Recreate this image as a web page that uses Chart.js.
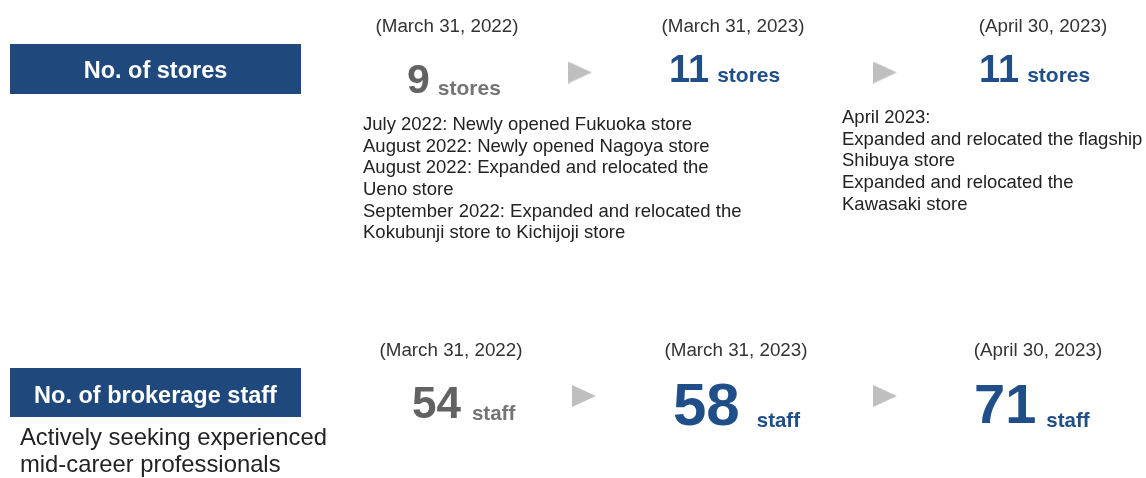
<!DOCTYPE html>
<html>
<head>
<meta charset="utf-8">
<script src="https://cdn.jsdelivr.net/npm/chart.js@4"></script>
<style>
  html, body { margin: 0; padding: 0; background: #ffffff; overflow: hidden; }
  canvas { display: block; }
</style>
</head>
<body>
<canvas id="c" width="1146" height="478"></canvas>
<script>
// ---------------- data ----------------
const periods = ['(March 31, 2022)', '(March 31, 2023)', '(April 30, 2023)'];
const storeCounts = [9, 11, 11];
const staffCounts = [54, 58, 71];
const metricLabels = ['No. of stores', 'No. of brokerage staff'];
const unitLabels = ['stores', 'staff'];
const staffNote = ['Actively seeking experienced', 'mid-career professionals'];
const storeNotesFY2022 = [
  'July 2022: Newly opened Fukuoka store',
  'August 2022: Newly opened Nagoya store',
  'August 2022: Expanded and relocated the',
  'Ueno store',
  'September 2022: Expanded and relocated the',
  'Kokubunji store to Kichijoji store'
];
const storeNotesApr2023 = [
  'April 2023:',
  'Expanded and relocated the flagship',
  'Shibuya store',
  'Expanded and relocated the',
  'Kawasaki store'
];

// ---------------- layout & style ----------------
const FONT = '"Liberation Sans", Arial, Helvetica, sans-serif';
const BLUE_BOX = '#1f497d';
const BLUE_TXT = '#1f4e89';
const GRAY_NUM = '#626262';
const GRAY_UNIT = '#747474';
const ARROW = '#bfbfbf';

const layout = {
  stores: {
    box: { x: 10, y: 44, w: 291, h: 50, base: 78 },
    dateX: [447, 733, 1043], dateBase: 32,
    numX: [407, 669, 979], numBase: [93, 82, 82], numSize: [41, 38, 38],
    unitBase: [95, 82, 82], unitGap: [8, 8, 8], unitSize: 21,
    colors: [GRAY_NUM, BLUE_TXT, BLUE_TXT], unitColors: [GRAY_UNIT, BLUE_TXT, BLUE_TXT],
    arrowX: [580, 885], arrowY: 72.5
  },
  staff: {
    box: { x: 10, y: 368, w: 291, h: 49, base: 403 },
    dateX: [451, 736, 1038], dateBase: 356,
    numX: [412, 673, 974], numBase: [418, 425, 423], numSize: [44, 60, 56],
    unitBase: [420, 427, 427], unitGap: [11, 17, 10], unitSize: 20.5,
    colors: [GRAY_NUM, BLUE_TXT, BLUE_TXT], unitColors: [GRAY_UNIT, BLUE_TXT, BLUE_TXT],
    arrowX: [584, 885], arrowY: 396
  },
  boxFont: 23.5,
  dateFont: 18.8,
  notesFY: { x: 363, base: 130, lh: 21.65, size: 18.5 },
  notesApr: { x: 842, base: 123, lh: 21.7, size: 18.5 },
  staffNote: { x: 20, base: 445, lh: 26.5, size: 23.8 }
};

// right-pointing triangle marker used as point style
function makeArrow(w, h, color) {
  const cv = document.createElement('canvas');
  cv.width = w; cv.height = h;
  const g = cv.getContext('2d');
  g.fillStyle = color;
  g.beginPath();
  g.moveTo(0, 0); g.lineTo(w, h / 2); g.lineTo(0, h); g.closePath();
  g.fill();
  return cv;
}
const arrowImg = makeArrow(24, 22, ARROW);

function rowPoints(key, counts) {
  const L = layout[key];
  return counts.map((v, i) => ({ x: L.numX[i], y: L.numBase[i], value: v }));
}
function arrowPoints(key) {
  const L = layout[key];
  return L.arrowX.map(x => ({ x: x, y: L.arrowY }));
}

const infoPlugin = {
  id: 'info',
  afterDatasetsDraw(chart) {
    const ctx = chart.ctx;
    const xs = chart.scales.x, ys = chart.scales.y;
    const px = v => xs.getPixelForValue(v);
    const py = v => ys.getPixelForValue(v);
    ctx.save();
    ctx.textBaseline = 'alphabetic';

    ['stores', 'staff'].forEach((key, r) => {
      const L = layout[key];
      // header box
      ctx.fillStyle = BLUE_BOX;
      ctx.fillRect(px(L.box.x), py(L.box.y), px(L.box.x + L.box.w) - px(L.box.x), py(L.box.y + L.box.h) - py(L.box.y));
      ctx.fillStyle = '#ffffff';
      ctx.font = 'bold ' + layout.boxFont + 'px ' + FONT;
      ctx.textAlign = 'center';
      ctx.fillText(metricLabels[r], px(L.box.x + L.box.w / 2), py(L.box.base));
      // dates
      ctx.fillStyle = '#333333';
      ctx.font = layout.dateFont + 'px ' + FONT;
      periods.forEach((p, i) => ctx.fillText(p, px(L.dateX[i]), py(L.dateBase)));
      // numbers + units
      const meta = chart.getDatasetMeta(r + 1);
      const ds = chart.data.datasets[r + 1];
      ctx.textAlign = 'left';
      meta.data.forEach((el, i) => {
        const v = ds.data[i].value;
        ctx.font = 'bold ' + L.numSize[i] + 'px ' + FONT;
        ctx.fillStyle = L.colors[i];
        ctx.fillText(String(v), el.x, el.y);
        const w = ctx.measureText(String(v)).width;
        ctx.font = 'bold ' + L.unitSize + 'px ' + FONT;
        ctx.fillStyle = L.unitColors[i];
        ctx.fillText(unitLabels[r], el.x + w + L.unitGap[i], py(L.unitBase[i]));
      });
    });

    // notes
    ctx.textAlign = 'left';
    ctx.fillStyle = '#222222';
    const drawLines = (lines, cfg) => {
      ctx.font = cfg.size + 'px ' + FONT;
      lines.forEach((t, i) => ctx.fillText(t, px(cfg.x), py(cfg.base + i * cfg.lh)));
    };
    drawLines(storeNotesFY2022, layout.notesFY);
    drawLines(storeNotesApr2023, layout.notesApr);
    drawLines(staffNote, layout.staffNote);
    ctx.restore();
  }
};

new Chart(document.getElementById('c'), {
  type: 'scatter',
  data: {
    datasets: [
      {
        label: 'arrows',
        data: arrowPoints('stores').concat(arrowPoints('staff')),
        pointStyle: arrowImg,
        pointRadius: 12,
        pointHoverRadius: 12
      },
      {
        label: metricLabels[0],
        data: rowPoints('stores', storeCounts),
        pointRadius: 0, pointHoverRadius: 0
      },
      {
        label: metricLabels[1],
        data: rowPoints('staff', staffCounts),
        pointRadius: 0, pointHoverRadius: 0
      }
    ]
  },
  options: {
    responsive: false,
    animation: false,
    events: [],
    layout: { padding: 0, autoPadding: false },
    scales: {
      x: { type: 'linear', min: 0, max: 1146, display: false, offset: false },
      y: { type: 'linear', min: 0, max: 478, reverse: true, display: false, offset: false }
    },
    plugins: { legend: { display: false }, tooltip: { enabled: false } }
  },
  plugins: [infoPlugin]
});
</script>
</body>
</html>
